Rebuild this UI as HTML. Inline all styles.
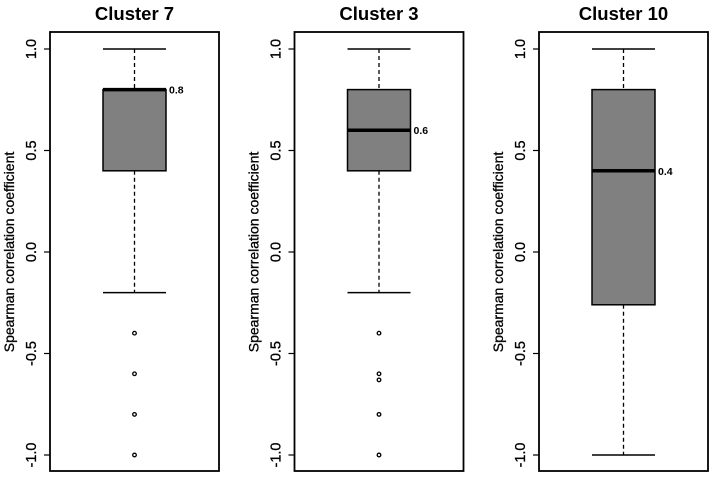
<!DOCTYPE html>
<html><head><meta charset="utf-8"><style>
body{margin:0;background:#fff;width:709px;height:472px;overflow:hidden}
svg{font-family:"Liberation Sans",Arial,sans-serif}
</style></head><body>
<svg id="chart" width="709" height="472"></svg>
<script>
const titles=["Cluster 7","Cluster 3","Cluster 10"];
const whiskerLow=[-0.2,-0.2,-1.0];
const q1=[0.4,0.4,-0.26];
const medians=[0.8,0.6,0.4];
const q3=[0.8,0.8,0.8];
const whiskerHigh=[1.0,1.0,1.0];
const outliers=[[-0.4,-0.6,-0.8,-1.0],[-0.4,-0.6,-0.63,-0.8,-1.0],[]];
const medianLabels=["0.8","0.6","0.4"];
const yTicks=[-1.0,-0.5,0.0,0.5,1.0];
const yTickLabels=["-1.0","-0.5","0.0","0.5","1.0"];

const svg=document.getElementById('chart');
const NS='http://www.w3.org/2000/svg';
function el(t,a,p){const e=document.createElementNS(NS,t);for(const k in a)e.setAttribute(k,a[k]);(p||svg).appendChild(e);return e;}
const y=v=>49+(1-v)*203;
titles.forEach((t,i)=>{
  const L=50+i*244.5,R=L+169,cx=(L+R)/2,hw=31.5;
  const g=el('g',{});
  
  
  const tt=el('text',{x:cx,y:20,'text-anchor':'middle','font-size':18.5,'font-weight':'bold'},g);tt.textContent=t;
  
  
  const fr=el('rect',{x:L,y:32,width:169,height:439,fill:'none',stroke:'#000','stroke-width':1.8},g);
  
  
  el('line',{x1:L,x2:L,y1:y(1),y2:y(-1),stroke:'#000'},g);
  yTicks.forEach((v,k)=>{
    el('line',{x1:L-6,x2:L,y1:y(v),y2:y(v),stroke:'#000','stroke-width':1.2},g);
    const lb=el('text',{transform:`translate(${L-14},${y(v)}) rotate(-90)`,'text-anchor':'middle','font-size':14.5,'stroke':'#000','stroke-width':0.3},g);
    lb.textContent=yTickLabels[k];
    
    
  });
  const yt=el('text',{transform:`translate(${L-36},${y(0)}) rotate(-90)`,'text-anchor':'middle','font-size':14,'stroke':'#000','stroke-width':0.3},g);
  yt.textContent='Spearman correlation coefficient';
  
  
  el('line',{x1:cx,x2:cx,y1:y(whiskerHigh[i]),y2:y(q3[i]),stroke:'#000','stroke-width':1.3,'stroke-dasharray':'4,3'},g);
  el('line',{x1:cx,x2:cx,y1:y(q1[i]),y2:y(whiskerLow[i]),stroke:'#000','stroke-width':1.3,'stroke-dasharray':'4,3'},g);
  el('line',{x1:cx-hw,x2:cx+hw,y1:y(whiskerHigh[i]),y2:y(whiskerHigh[i]),stroke:'#000','stroke-width':1.5},g);
  el('line',{x1:cx-hw,x2:cx+hw,y1:y(whiskerLow[i]),y2:y(whiskerLow[i]),stroke:'#000','stroke-width':1.5},g);
  const b=el('rect',{x:cx-hw,y:y(q3[i]),width:2*hw,height:y(q1[i])-y(q3[i]),fill:'#808080',stroke:'#000','stroke-width':1.5},g);
  
  
  el('line',{x1:cx-hw,x2:cx+hw,y1:y(medians[i]),y2:y(medians[i]),stroke:'#000','stroke-width':3.5},g);
  const ml=el('text',{x:cx+hw+3,y:y(medians[i])+4,'font-size':10.5,'font-weight':'bold'},g);
  ml.textContent=medianLabels[i];
  
  
  outliers[i].forEach(v=>{
    const c=el('circle',{cx:cx,cy:y(v),r:1.8,fill:'none',stroke:'#000','stroke-width':1.3},g);
    
    
  });
});
</script>
</body></html>
